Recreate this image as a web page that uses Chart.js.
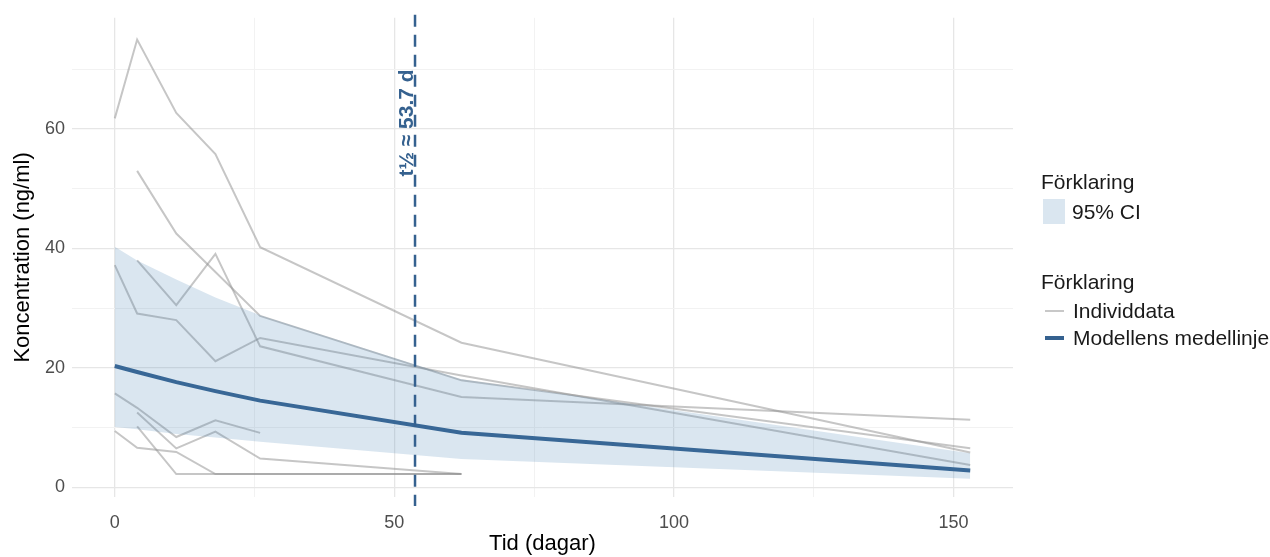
<!DOCTYPE html>
<html>
<head>
<meta charset="utf-8">
<script src="https://cdn.jsdelivr.net/npm/chart.js@4.4.0/dist/chart.umd.min.js"></script>
<style>
  body { margin: 0; background: #fff; }
  #wrap { position: relative; width: 1270px; height: 557px; font-family: "Liberation Sans", Arial, sans-serif; }
  .lg { position: absolute; font-size: 21px; line-height: 25px; color: #1a1a1a; white-space: nowrap; }
  .box { position: absolute; width: 22px; height: 25px; background: rgba(70, 130, 180, 0.2); }
  .sw { position: absolute; width: 19px; }
</style>
</head>
<body>
<div id="wrap">
  <canvas id="chart"></canvas>
  <div class="lg" style="left:1041px; top:169px;">Förklaring</div>
  <div class="box" style="left:1043px; top:199px;"></div>
  <div class="lg" style="left:1072px; top:199px;">95% CI</div>
  <div class="lg" style="left:1041px; top:269px;">Förklaring</div>
  <div class="sw" style="left:1045px; top:310px; height:2px; background:#c8c8c8;"></div>
  <div class="lg" style="left:1073px; top:298px;">Individdata</div>
  <div class="sw" style="left:1045px; top:336px; height:4px; background:#35618f;"></div>
  <div class="lg" style="left:1073px; top:325px;">Modellens medellinje</div>
</div>
<script>
// sampling days and values
const days = [0, 4, 11, 18, 26, 62, 153];

// individual subjects (null = no sample)
const subjA = [61.8, 75.0, 62.7, 55.8, 40.2, 24.2, 5.8];
const subjB = [null, 53.0, 42.5, null, 28.7, 17.9, 6.5];
const subjC = [null, 38.0, 30.5, 39.1, 23.6, 15.1, 11.3];
const subjD = [37.2, 29.1, 28.0, 21.1, 25.0, 18.7, 3.7];
const subjE = [15.7, 13.3, 8.4, 11.2, 9.1, null, null];
const subjF = [null, 12.5, 6.5, 9.3, 4.8, 2.2, null];
const subjG = [9.4, 6.6, 5.9, 2.2, null, 2.2, null];
const subjH = [null, 10.2, 2.2, 2.2, null, 2.2, null];
const subjects = [subjA, subjB, subjC, subjD, subjE, subjF, subjG, subjH];

// model mean and 95% CI
const modelMean = [20.3, 19.3, 17.6, 16.1, 14.5, 9.1, 2.8];
const ciUpper = [40.3, 38.0, 34.8, 31.8, 28.8, 18.1, 5.7];
const ciLower = [10.1, 9.7, 8.9, 8.3, 7.6, 4.7, 1.4];

const halfLife = 53.7;
const halfLifeLabel = 't½ ≈ 53.7 d';

const xTicks = [0, 25, 50, 75, 100, 125, 150];
const yTicks = [0, 10, 20, 30, 40, 50, 60, 70];

const blue = '#35618f';
const bandColor = 'rgba(70, 130, 180, 0.2)';
const greyLine = 'rgba(145, 145, 145, 0.52)';

const toPoints = arr => days.map((d, i) => ({ x: d, y: arr[i] }));

const datasets = [
  { data: toPoints(ciLower), borderWidth: 0, pointRadius: 0, fill: false },
  { data: toPoints(ciUpper), borderWidth: 0, pointRadius: 0, fill: '-1', backgroundColor: bandColor },
];
subjects.forEach(s => {
  datasets.push({ data: toPoints(s), borderColor: greyLine, borderWidth: 2, pointRadius: 0, spanGaps: true, fill: false });
});
datasets.push({ data: toPoints(modelMean), borderColor: blue, borderWidth: 4, pointRadius: 0, fill: false });

const halfLifePlugin = {
  id: 'halfLife',
  afterDatasetsDraw(chart) {
    const { ctx, chartArea, scales } = chart;
    const px = scales.x.getPixelForValue(halfLife);
    ctx.save();
    ctx.strokeStyle = blue;
    ctx.lineWidth = 2.5;
    ctx.setLineDash([12, 8]);
    ctx.beginPath();
    ctx.moveTo(px, chartArea.top - 3);
    ctx.lineTo(px, chartArea.bottom + 9);
    ctx.stroke();
    ctx.setLineDash([]);
    ctx.translate(px - 2, 123);
    ctx.rotate(-Math.PI / 2);
    ctx.fillStyle = blue;
    ctx.font = 'bold 21px "Liberation Sans", Arial, sans-serif';
    ctx.textAlign = 'center';
    ctx.textBaseline = 'alphabetic';
    ctx.fillText(halfLifeLabel, 0, 0);
    ctx.restore();
  }
};

const majorGrid = '#e6e6e6';
const minorGrid = '#f2f2f2';
const font = { family: '"Liberation Sans", Arial, sans-serif' };

new Chart(document.getElementById('chart'), {
  type: 'line',
  data: { datasets },
  options: {
    responsive: true,
    maintainAspectRatio: false,
    animation: false,
    layout: { padding: { top: 15, right: 257, left: 0, bottom: 0 } },
    plugins: { legend: { display: false }, tooltip: { enabled: false } },
    scales: {
      x: {
        type: 'linear',
        min: -7.65,
        max: 160.65,
        afterBuildTicks: axis => { axis.ticks = xTicks.map(v => ({ value: v })); },
        afterFit: axis => { axis.height = 60; },
        border: { display: false },
        grid: {
          drawTicks: false,
          color: c => (c.tick && c.tick.value % 50 === 0 ? majorGrid : minorGrid),
          lineWidth: c => (c.tick && c.tick.value % 50 === 0 ? 1.3 : 1),
        },
        ticks: {
          padding: 15,
          color: '#4d4d4d',
          font: { ...font, size: 18 },
          maxRotation: 0,
          callback: v => (v % 50 === 0 ? v : ''),
        },
        title: { display: true, text: 'Tid (dagar)', color: '#000', font: { ...font, size: 22 }, padding: { top: 0, bottom: 0 } },
      },
      y: {
        min: -1.65,
        max: 78.65,
        afterBuildTicks: axis => { axis.ticks = yTicks.map(v => ({ value: v })); },
        afterFit: axis => { axis.width = 72; },
        border: { display: false },
        grid: {
          drawTicks: false,
          color: c => (c.tick && c.tick.value % 20 === 0 ? majorGrid : minorGrid),
          lineWidth: c => (c.tick && c.tick.value % 20 === 0 ? 1.3 : 1),
        },
        ticks: {
          padding: 7,
          color: '#4d4d4d',
          font: { ...font, size: 18 },
          callback: v => (v % 20 === 0 ? v : ''),
        },
        title: { display: true, text: 'Koncentration (ng/ml)', color: '#000', font: { ...font, size: 22 }, padding: { top: 10, bottom: 0 } },
      },
    },
  },
  plugins: [halfLifePlugin],
});
</script>
</body>
</html>
